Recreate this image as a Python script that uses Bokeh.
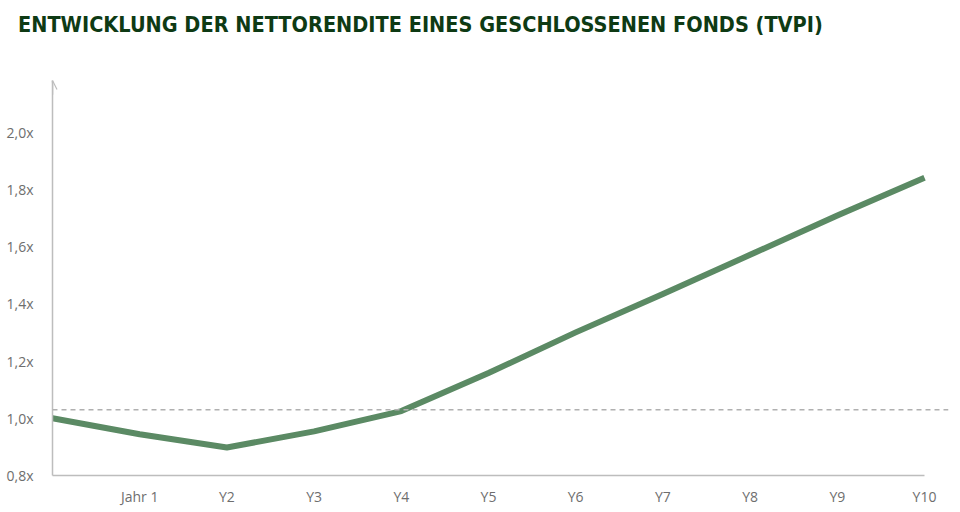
from bokeh.plotting import figure
from bokeh.models import (Range1d, FixedTicker, CustomJSTickFormatter, Span, Arrow,
                          OpenHead, Div)
from bokeh.layouts import column
from bokeh.embed import file_html
from bokeh.resources import INLINE

# data
years = [0, 1, 2, 3, 4, 5, 6, 7, 8, 9, 10]
tvpi = [1.00, 0.944, 0.898, 0.954, 1.025, 1.158, 1.30, 1.434, 1.571, 1.708, 1.84]
x_ticks = [1, 2, 3, 4, 5, 6, 7, 8, 9, 10]
x_labels = ["Jahr 1", "Y2", "Y3", "Y4", "Y5", "Y6", "Y7", "Y8", "Y9", "Y10"]
y_ticks = [0.8, 1.0, 1.2, 1.4, 1.6, 1.8, 2.0]
reference_level = 1.03
title_text = "ENTWICKLUNG DER NETTORENDITE EINES GESCHLOSSENEN FONDS (TVPI)"

y_top = 2.18
x_end = 10.275

title_div = Div(
    text=('<div style="padding-left:18px;font-family:\'DejaVu Sans Condensed\',sans-serif;'
          'font-size:21.5px;font-weight:bold;color:#0e3a14;line-height:50px;'
          'white-space:nowrap;margin:0;">' + title_text + '</div>'),
    width=940, height=50, margin=(0, 0, 0, 0))

p = figure(frame_width=896, frame_height=395,
           x_range=Range1d(0, x_end), y_range=Range1d(0.8, y_top),
           output_backend="svg", toolbar_location=None,
           min_border_left=52, min_border_right=4, min_border_top=30,
           min_border_bottom=28, margin=(0, 0, 0, 0))

p.outline_line_color = None
p.grid.grid_line_color = None
p.background_fill_color = "white"

# axes
for ax in (p.xaxis[0], p.yaxis[0]):
    ax.axis_line_color = "#bdbdbd"
    ax.axis_line_width = 1.5
    ax.major_tick_line_color = None
    ax.minor_tick_line_color = None
    ax.major_label_text_font = "Open Sans"
    ax.major_label_text_font_size = "14px"
    ax.major_label_text_color = "#6e6e6e"

p.xaxis.ticker = FixedTicker(ticks=x_ticks)
p.xaxis.major_label_overrides = {t: l for t, l in zip(x_ticks, x_labels)}
p.xaxis.major_label_standoff = 5
p.xaxis.bounds = (0, 10)

p.yaxis.ticker = FixedTicker(ticks=y_ticks)
p.yaxis.formatter = CustomJSTickFormatter(code="return tick.toFixed(1).replace('.', ',') + 'x';")
p.yaxis.major_label_standoff = 13

# arrow on y axis
p.add_layout(Arrow(end=OpenHead(size=9, line_color="#bdbdbd", line_width=1.2),
                   x_start=0, y_start=y_top - 0.05, x_end=0, y_end=y_top,
                   line_color="#bdbdbd", line_width=1.5))

# reference dashed line
p.add_layout(Span(location=reference_level, dimension="width", line_color="#b0b0b0",
                  line_dash="5 4", line_width=1.5))

# main line
p.line(years, tvpi, line_color="#5b8a64", line_width=6, line_join="round", line_cap="butt")

layout = column(title_div, p, spacing=0, margin=(0, 0, 0, 0))
open("out.html", "w").write(file_html(layout, INLINE))
